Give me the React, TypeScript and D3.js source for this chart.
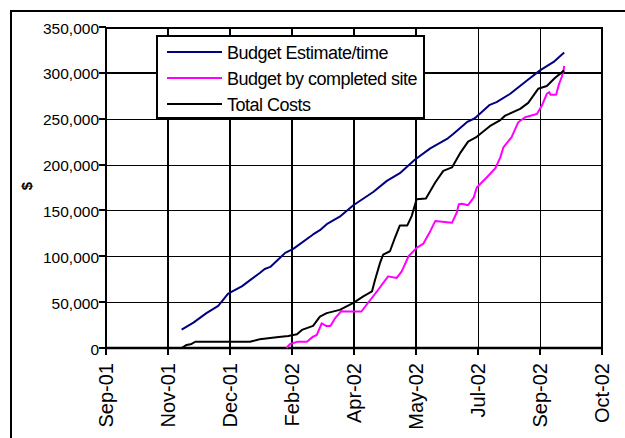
import * as d3 from 'd3';
import React from 'react';

// x positions are in axis-label units (0 = Sep-01 ... 8 = Oct-02), category axis
const tickLabels = ['Sep-01', 'Nov-01', 'Dec-01', 'Feb-02', 'Apr-02', 'May-02', 'Jul-02', 'Sep-02', 'Oct-02'];
const yTicks = [0, 50000, 100000, 150000, 200000, 250000, 300000, 350000];

const budgetEstimate: [number, number][] = [
    [1.22, 20000], [1.41, 27700], [1.62, 38000], [1.81, 46000], [1.97, 59200], [2.19, 67200],
    [2.48, 81800], [2.56, 86200], [2.65, 88400], [2.89, 103700], [3.02, 108100], [3.34, 123800],
    [3.45, 128500], [3.56, 135000], [3.77, 143200], [3.99, 155600], [4.31, 170100], [4.53, 182200],
    [4.74, 190600], [4.98, 205200], [5.23, 217700], [5.5, 227900], [5.6, 233300], [5.82, 246200],
    [5.95, 250500], [6.19, 265100], [6.3, 268100], [6.52, 277200], [6.79, 291700], [7.0, 302700],
    [7.22, 311900], [7.39, 322100],
];

const budgetByCompleted: [number, number][] = [
    [2.91, 0], [2.97, 4400], [3.08, 6700], [3.24, 6700], [3.34, 12400], [3.4, 14200], [3.48, 27000],
    [3.55, 24100], [3.62, 24100], [3.69, 32000], [3.79, 40000], [3.88, 39800], [4.12, 39800],
    [4.23, 49600], [4.39, 63500], [4.55, 78100], [4.69, 76400], [4.77, 83600], [4.88, 100000],
    [5.01, 109200], [5.12, 113900], [5.23, 127400], [5.31, 138400], [5.58, 136500], [5.66, 148000],
    [5.69, 156700], [5.74, 157200], [5.84, 155700], [5.93, 164000], [5.98, 175000], [6.14, 185900],
    [6.28, 196000], [6.36, 207800], [6.41, 218800], [6.54, 229700], [6.65, 246200], [6.76, 251600],
    [6.95, 255200], [7.03, 264300], [7.11, 277200], [7.15, 279000], [7.17, 276100], [7.26, 276100],
    [7.3, 286300], [7.35, 295500], [7.38, 302700], [7.39, 307500],
];

const totalCosts: [number, number][] = [
    [1.22, 0], [1.3, 3300], [1.38, 4400], [1.44, 6800], [2.32, 6900], [2.48, 9500], [2.75, 11700],
    [2.94, 13100], [3.08, 15000], [3.16, 19700], [3.34, 24100], [3.45, 34300], [3.56, 38000],
    [3.77, 41600], [3.99, 49300], [4.15, 56200], [4.29, 61700], [4.34, 74500], [4.42, 92800],
    [4.47, 101900], [4.58, 105500], [4.66, 120200], [4.74, 133700], [4.86, 133700], [4.93, 143800],
    [5.01, 162100], [5.16, 162900], [5.31, 180400], [5.44, 193100], [5.58, 196900], [5.72, 213300],
    [5.84, 225000], [5.98, 230300], [6.19, 241800], [6.36, 248500], [6.44, 253400], [6.68, 260700],
    [6.81, 267300], [6.97, 282600], [7.11, 285600], [7.24, 294400], [7.39, 302700],
];

const seriesNames = ['Budget Estimate/time', 'Budget by completed site', 'Total Costs'];
const seriesColors = ['#000080', '#FF00FF', '#000000'];

const FONT = '"Liberation Sans", Arial, sans-serif';

const App: React.FC = () => {
    const left = 106, right = 602, top = 27, bottom = 348;

    const x = d3.scaleLinear().domain([0, 8]).range([left, right]);
    const y = d3.scaleLinear().domain([0, 350000]).range([bottom, top]);

    const line = d3.line<[number, number]>()
        .x(d => x(d[0]))
        .y(d => y(d[1]));

    const series = [budgetEstimate, budgetByCompleted, totalCosts];
    const fmt = d3.format(',');

    return (
        <svg width={625} height={438} style={{ position: 'absolute', left: 0, top: 0, background: '#fff' }}>
            {/* chart border */}
            <rect x={11} y={11} width={700} height={500} fill="#fff" stroke="#000" strokeWidth={2} />

            {/* horizontal gridlines */}
            {yTicks.slice(1, -1).map(t => {
                const thick = t === 300000;
                const yy = Math.round(y(t)) + (thick ? 0 : 0.5);
                return (
                    <line key={'h' + t} x1={left} x2={right} y1={yy} y2={yy}
                        stroke="#000" strokeWidth={thick ? 2 : 1} />
                );
            })}
            {/* vertical gridlines */}
            {tickLabels.slice(1, -1).map((_, i) => {
                const thin = i + 1 >= 6;
                const xx = Math.round(x(i + 1)) + (thin ? 0.5 : 0);
                return (
                    <line key={'v' + i} x1={xx} x2={xx} y1={top} y2={bottom}
                        stroke="#000" strokeWidth={thin ? 1 : 2} />
                );
            })}

            {/* plot frame */}
            <line x1={left} x2={right + 1} y1={top + 1} y2={top + 1} stroke="#000" strokeWidth={2} />
            <line x1={right} x2={right} y1={top} y2={bottom} stroke="#000" strokeWidth={2} />
            <line x1={left} x2={left} y1={top} y2={bottom + 1} stroke="#000" strokeWidth={2} />
            <line x1={left} x2={right + 1} y1={bottom} y2={bottom} stroke="#000" strokeWidth={2.5} />

            {/* y ticks */}
            {yTicks.map(t => (
                <g key={'yt' + t}>
                    <line x1={left - 7} x2={left} y1={Math.round(y(t))} y2={Math.round(y(t))} stroke="#000" strokeWidth={2} />
                    <text x={99} y={y(t) + 6.5} textAnchor="end" fontFamily={FONT} fontSize={15.5} fill="#000">
                        {fmt(t)}
                    </text>
                </g>
            ))}

            {/* x ticks */}
            {tickLabels.map((lab, i) => (
                <g key={lab}>
                    <line x1={x(i)} x2={x(i)} y1={bottom} y2={bottom + 7} stroke="#000" strokeWidth={2} />
                    <text transform={`translate(${x(i) + 7},363) rotate(-90)`} textAnchor="end"
                        fontFamily={FONT} fontSize={20} fill="#000">
                        {lab}
                    </text>
                </g>
            ))}

            {/* y axis title */}
            <text transform="translate(32,186) rotate(-90)" textAnchor="middle" fontFamily={FONT}
                fontSize={15} fontWeight="bold" fill="#000">$</text>

            {/* series */}
            {series.map((s, i) => (
                <path key={seriesNames[i]} d={line(s) || ''} fill="none" stroke={seriesColors[i]}
                    strokeWidth={2} strokeLinejoin="round" />
            ))}

            {/* legend */}
            <rect x={157} y={36} width={267} height={82} fill="#fff" stroke="#000" strokeWidth={2} />
            {seriesNames.map((name, i) => (
                <g key={'lg' + i}>
                    <line x1={167} x2={222} y1={52 + i * 26} y2={52 + i * 26} stroke={seriesColors[i]} strokeWidth={2} />
                    <text x={227} y={58.5 + i * 26} fontFamily={FONT} fontSize={18} letterSpacing={-0.5} fill="#000">
                        {name}
                    </text>
                </g>
            ))}
        </svg>
    );
};

export default App;
